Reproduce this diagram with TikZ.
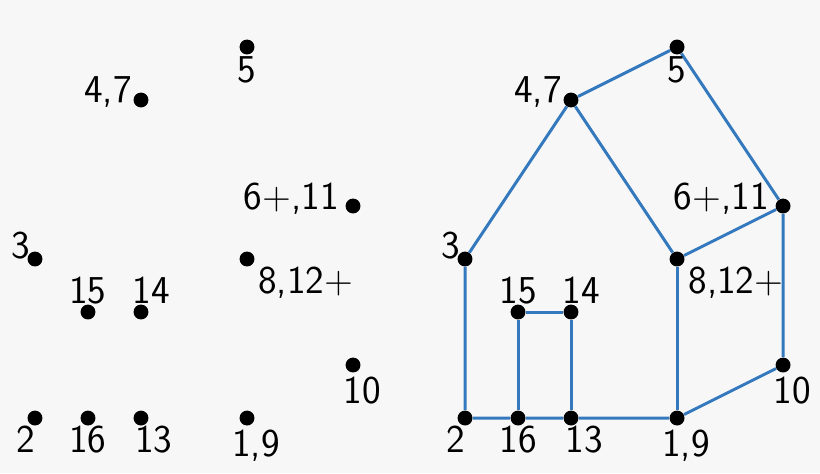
\documentclass[tikz,border=0pt]{standalone}
\usepackage{fontspec}
\usetikzlibrary{backgrounds}
\definecolor{houseblue}{RGB}{52,120,190}
\definecolor{paper}{RGB}{247,247,248}

\begin{document}
\begin{tikzpicture}[
    dot/.style={circle, inner sep=0pt, minimum size=8pt, fill=black},
    lbl/.style={inner sep=0pt, text height=13.4pt, text depth=0pt,
      font=\sffamily\fontsize{21.2}{26}\selectfont},
    edge/.style={draw=houseblue, line width=1.6pt}]
  \useasboundingbox (-0.66,-1.038) rectangle (14.81,7.887);
  \foreach \s/\dx in {l/0, r/8.113} {
    \begin{scope}[xshift=\dx cm]
      \foreach \n/\x/\y/\t/\a/\ox/\oy in {
          2/0/0/2/center/-0.17/-0.415,
          16/1/0/16/center/0/-0.415,
          13/2/0/13/center/0.245/-0.415,
          19/4/0/{1,9}/center/0.17/-0.49,
          10/6/1/10/center/0.17/-0.49,
          15/1/2/15/center/0/0.396,
          14/2/2/14/center/0.19/0.396,
          3/0/3/3/center/-0.264/0.245,
          812/4/3/{8,12+}/west/0.208/-0.415,
          611/6/4/{6+,11}/east/-0.264/0.17,
          47/2/6/{4,7}/east/-0.17/0.18,
          5/4/7/5/center/0/-0.434} {
        \node[dot] (\s\n) at (\x,\y) {};
        \node[lbl, anchor=\a] (t\s\n) at ([shift={(\ox,\oy)}]\s\n) {\t};
      }
    \end{scope}
  }
  \begin{scope}[on background layer]
    \fill[paper] (-0.66,-1.038) rectangle (14.81,7.887);
    % outline of the house
    \draw[edge] (r2) -- (r3) -- (r47) -- (r5) -- (r611) -- (r10) -- (r19)
      -- (r13) -- (r16) -- (r2);
    % door
    \draw[edge] (r16) -- (r15) -- (r14) -- (r13);
    % front wall
    \draw[edge] (r47) -- (r812) -- (r611);
    \draw[edge] (r812) -- (r19);
  \end{scope}
\end{tikzpicture}
\end{document}
